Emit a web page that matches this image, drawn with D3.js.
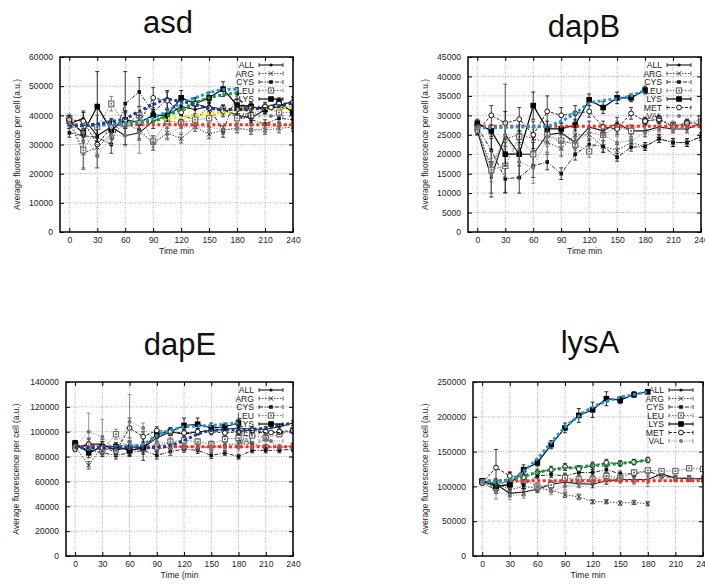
<!DOCTYPE html>
<html><head><meta charset="utf-8">
<script src="https://cdn.jsdelivr.net/npm/d3@7/dist/d3.min.js"></script>
<style>body{margin:0;background:#fff} text{font-family:"Liberation Sans",Arial,Helvetica,sans-serif}</style>
</head><body><svg id="c" width="705" height="584"></svg>
<script>
// ---------------- DATA ----------------
const times = [0,15,30,45,60,75,90,105,120,135,150,165,180,195,210,225,240];
const seriesNames = ["ALL","ARG","CYS","LEU","LYS","MET","VAL"];
const panelTitles = ["asd","dapB","dapE","lysA"];
const xTicks = [0,30,60,90,120,150,180,210,240];
const xLabels = ["Time  min","Time  min","Time (min","Time  min"];
const yLabel = "Average fluorescence per cell (a.u.)";
const yTicksAsd = [0,10000,20000,30000,40000,50000,60000];
const yTicksDapB = [0,5000,10000,15000,20000,25000,30000,35000,40000,45000];
const yTicksDapE = [0,20000,40000,60000,80000,100000,120000,140000];
const yTicksLysA = [0,50000,100000,150000,200000,250000];

// values per series, order: ALL, ARG, CYS, LEU, LYS, MET, VAL
const asdValues = [
 [37000,39000,33000,36000,33000,34000,38000,40000,43000,42000,43000,42000,40000,39000,42000,43000,45000],
 [38000,27000,29000,33500,37000,35000,30500,34000,32000,36000,33500,35000,35500,35000,35000,35500,36000],
 [34000,33000,32500,30000,44000,48000,41000,45500,40000,38500,43000,34500,47500,38500,37000,39000,38500],
 [39000,28000,36000,44000,37000,40000,31000,38000,37500,38500,39000,42000,39000,40000,42500,41000,41000],
 [38000,34000,43000,35000,38500,37500,40000,40000,46000,44000,46000,49000,43500,43000,42000,44500,41000],
 [38500,38000,30000,36000,38500,37500,46000,45000,41000,44000,42500,41500,42000,42500,43000,44000,44500],
 [37500,34000,26000,33000,33000,34000,30500,33500,36000,36000,36000,35000,35500,35000,35500,36500,36500]
];
const asdErrors = [
 [1500,2500,3000,2500,3000,2500,2500,2000,2000,2000,1500,1500,1500,1500,1500,1500,1500],
 [1500,5500,7000,3000,4000,3000,2500,2000,1500,1500,1500,1500,1500,1500,1500,1500,1500],
 [1500,2500,3000,3000,11000,5000,3000,3000,2500,2000,2000,2000,2000,1500,1500,1500,1500],
 [1500,6000,4000,2500,3500,2500,2000,2500,2000,1500,1500,1500,1500,1500,1500,1500,1500],
 [1500,2500,12000,3000,3000,2500,2000,2000,2500,2000,2000,2500,2000,1500,1500,1500,1500],
 [1500,3000,3500,3000,3000,2500,3500,3000,2500,2000,2000,2000,1500,1500,1500,1500,1500],
 [1500,3000,4000,3000,3500,7000,2500,2000,2000,1500,1500,1500,1500,1500,1500,1500,1500]
];
const dapBValues = [
 [26000,14000,25000,20000,20000,25000,25500,23000,27000,26000,28000,26000,26000,27000,26500,26500,28000],
 [26000,17000,24000,25000,24000,23000,21500,25000,25000,22000,21000,23000,22000,24000,23000,23000,24500],
 [27000,21000,13700,14000,17000,18000,15000,20000,22500,22000,19200,21800,22000,24000,23000,23000,24500],
 [27000,16000,17000,24500,20000,25000,23500,22500,20700,25000,27000,26000,28500,29000,27500,28000,29000],
 [28000,26000,20000,20000,32500,26500,26500,27500,34000,32000,34500,34500,36500,null,null,null,null],
 [26000,30000,28000,29000,25000,31000,30000,30500,31000,27000,26500,30500,28500,29000,27000,28000,28000],
 [26500,15000,25000,18000,16500,24500,23000,23000,25500,25000,23000,23500,25500,26500,26500,27000,27500]
];
const dapBErrors = [
 [1000,4000,3000,3000,3000,2000,1500,1500,1500,1500,1500,1500,1500,1000,1000,1000,1000],
 [1000,8000,14000,4000,3000,2500,2000,1500,1500,1500,1500,1000,1000,1000,1000,1000,1000],
 [1000,3000,3500,4000,3000,2000,1500,1500,1500,1500,1000,1000,1000,1000,1000,1000,1000],
 [1000,3000,3000,3000,3000,2000,2000,1500,1500,1500,1500,1000,1000,1000,1000,1000,1000],
 [1000,1500,3000,6000,3500,2000,1500,1500,1500,1500,1500,1000,1000,1000,1000,1000,1000],
 [1000,2500,3000,3000,3500,4000,2000,2000,1500,1500,1500,1500,1000,1000,1000,1000,1000],
 [1000,6000,3500,4500,4000,2500,2000,1500,1500,1500,1500,1000,1000,1000,1000,1000,1000]
];
const dapEValues = [
 [87000,90000,90000,85000,88000,87000,95000,100000,98000,100000,101000,102000,103000,102000,102000,104000,107000],
 [88000,73000,88000,88000,90000,88000,86000,88000,88000,88000,87000,90000,90000,90000,88000,87000,89000],
 [90000,85000,83000,81000,83000,85000,81000,84000,86000,85000,81000,83000,80000,85000,85000,85000,86000],
 [89000,88000,85000,98000,85000,86000,88000,92000,93000,92000,90000,94000,95000,97000,95000,98000,101000],
 [91000,83000,88000,88000,85000,87000,98000,100000,105000,106000,103000,104000,107000,null,null,null,null],
 [86000,90000,87000,84000,103000,96000,101000,100000,99000,100000,100000,99000,100000,101000,100000,100000,101000],
 [88000,100000,96000,85000,108000,103000,92000,90000,87000,88000,88000,87000,87000,88000,94000,88000,88000]
];
const dapEErrors = [
 [2000,4000,4000,3000,4000,3000,3000,3000,3000,2500,2500,2500,2500,2000,2000,2000,2000],
 [2000,3000,4000,3000,3000,3000,3000,2500,2500,2500,2500,2000,2000,2000,2000,2000,2000],
 [2000,3000,3000,3000,3000,3000,3000,3000,2500,2500,2500,2000,2000,2000,2000,2000,2000],
 [2000,4000,4000,4000,4000,4000,3000,3000,2500,2500,2500,2000,2000,2000,2000,2000,2000],
 [2000,4000,4000,3000,4000,10000,3000,3000,6000,5000,4000,3000,3000,2000,2000,2000,2000],
 [2000,5000,5000,4000,8000,4000,3000,3000,3000,2500,2500,2500,2000,2000,2000,2000,2000],
 [2000,15000,14000,4000,22000,4000,4000,9000,3000,3000,3000,3000,2500,2000,2000,2000,2000]
];
const lysAValues = [
 [108000,103000,90000,92000,96000,103000,106000,104000,103000,108000,110000,110000,110000,118000,112000,111000,111000],
 [107000,105000,95000,100000,97000,95000,88000,85000,78000,78000,76000,77000,75000,null,null,null,null],
 [106000,95000,115000,102000,115000,117000,115000,120000,120000,124000,118000,118000,122000,115000,112000,112000,111000],
 [107000,98000,103000,110000,100000,102000,112000,110000,110000,115000,112000,120000,123000,122000,122000,126000,125000],
 [108000,100000,103000,124000,134000,160000,184000,202000,210000,226000,224000,232000,236000,null,null,null,null],
 [105000,127000,115000,113000,120000,124000,128000,125000,130000,134000,133000,135000,138000,null,null,null,null],
 [107000,92000,87000,88000,100000,93000,100000,103000,108000,110000,112000,108000,110000,113000,111000,112000,110000]
];
const lysAErrors = [
 [3000,6000,5000,5000,5000,5000,5000,5000,5000,5000,5000,5000,5000,4000,4000,4000,4000],
 [3000,6000,5000,4000,4000,4000,4000,4000,3000,3000,3000,3000,3000,3000,3000,3000,3000],
 [3000,5000,5000,5000,4000,4000,4000,4000,4000,4000,4000,4000,4000,3000,3000,3000,3000],
 [3000,5000,5000,5000,5000,5000,5000,5000,5000,5000,4000,4000,4000,3000,3000,3000,3000],
 [3000,6000,5000,7000,5000,6000,7000,10000,11000,10000,5000,4000,3000,3000,3000,3000,3000],
 [3000,26000,6000,5000,5000,5000,5000,5000,5000,5000,4000,4000,4000,3000,3000,3000,3000],
 [3000,10000,6000,5000,5000,5000,5000,5000,5000,5000,5000,5000,10000,4000,4000,4000,4000]
];

// model fit curves (dotted, coloured)
const asdFitRed    = [36800,36800,36800,36800,36800,36800,36800,36800,36800,36800,36800,36800,36800,36800,36800,36800,36800];
const asdFitYellow = [36000,36300,36600,37000,37400,38000,38500,38900,39300,40000,40600,41100,41600,42000,42300,42500,42700];
const asdFitNavy   = [36200,36500,37000,37900,38900,41400,43700,45400,44800,43700,42500,42000,42000,42200,42500,43300,44200];
const asdFitBlue   = [36500,36500,36600,36800,37000,37800,39100,41400,44200,46000,47700,48800,49000,null,null,null,null];
const asdFitGreen  = [36500,36700,37000,37200,37500,37800,38000,39900,42000,44300,46000,47000,47700,null,null,null,null];
const dapBFitRed   = [27200,27200,27200,27200,27200,27200,27200,27200,27200,27200,27200,27200,27200,27200,27200,27200,27200];
const dapBFitBlue  = [26800,26800,26900,27000,27000,27300,28500,30500,33000,33800,34300,35000,36500,null,null,null,null];
const dapEFitRed   = [88000,88000,88000,88000,88000,88000,88000,88000,88000,88000,88000,88000,88000,88000,88000,88000,88000];
const dapEFitBlue  = [87000,87000,87500,88000,88500,90000,97000,101000,104000,104500,105000,106000,107000,null,null,null,null];
const dapEFitNavy  = [87000,87000,87000,87000,87000,87000,87500,89000,93000,98000,101000,101500,101500,102000,103000,105000,107000];
const lysAFitRed   = [108000,108000,108000,108000,108000,108000,108000,108000,108000,108000,108000,108000,108000,108000,108000,108000,108000];
const lysAFitBlue  = [108000,106000,109000,122000,140000,163000,185000,201000,214000,222000,228000,232000,236000,null,null,null,null];
const lysAFitGreen = [107000,107500,110000,115000,120000,124000,126000,128000,130000,131000,133000,135000,138000,null,null,null,null];

// ---------------- LAYOUT / STYLE ----------------
const fitColors = {red:"#ff2a1a", yellow:"#f5ea00", navy:"#1f3a9e", blue:"#1e96d8", green:"#129a3c"};
const panels = [
 {title:panelTitles[0], left:60, right:293, top:57, bottom:232, tx:168, ty:33, ylx:17, yTicks:yTicksAsd, yMax:60000,
  values:asdValues, errors:asdErrors, xlab:xLabels[0],
  fits:[[asdFitRed,"red"],[asdFitYellow,"yellow"],[asdFitGreen,"green"],[asdFitBlue,"blue"],[asdFitNavy,"navy"]]},
 {title:panelTitles[1], left:468, right:701, top:57, bottom:232, tx:584, ty:37, ylx:425, yTicks:yTicksDapB, yMax:45000,
  values:dapBValues, errors:dapBErrors, xlab:xLabels[1],
  fits:[[dapBFitRed,"red"],[dapBFitBlue,"blue"]]},
 {title:panelTitles[2], left:66, right:293, top:382, bottom:556, tx:180, ty:355, ylx:16, yTicks:yTicksDapE, yMax:140000,
  values:dapEValues, errors:dapEErrors, xlab:xLabels[2],
  fits:[[dapEFitRed,"red"],[dapEFitBlue,"blue"],[dapEFitNavy,"navy"]]},
 {title:panelTitles[3], left:473, right:703, top:382, bottom:556, tx:590, ty:353, ylx:425, yTicks:yTicksLysA, yMax:250000,
  values:lysAValues, errors:lysAErrors, xlab:xLabels[3],
  fits:[[lysAFitRed,"red"],[lysAFitGreen,"green"],[lysAFitBlue,"blue"]]}
];
const styles = {
 ALL:{stroke:"#111", dash:null, w:1.1, mk:"dot"},
 ARG:{stroke:"#333", dash:"1.5,1.5", w:0.9, mk:"x"},
 CYS:{stroke:"#111", dash:"4,1.5,1,1.5", w:0.9, mk:"sq"},
 LEU:{stroke:"#666", dash:"1.5,1.5", w:0.9, mk:"osq"},
 LYS:{stroke:"#000", dash:null, w:1.2, mk:"bigsq"},
 MET:{stroke:"#111", dash:"3,1.5", w:0.9, mk:"ocirc"},
 VAL:{stroke:"#777", dash:"1,1.5", w:0.9, mk:"circ"}
};

const svg = d3.select("#c");
const fmt = d3.format("d");

function marker(g, type, x, y, col){
  if(type==="dot") g.append("circle").attr("cx",x).attr("cy",y).attr("r",1.6).attr("fill",col);
  else if(type==="x"){ const s=2.2;
    g.append("path").attr("d",`M${x-s},${y-s}L${x+s},${y+s}M${x-s},${y+s}L${x+s},${y-s}`).attr("stroke",col).attr("stroke-width",1);}
  else if(type==="sq") g.append("rect").attr("x",x-1.8).attr("y",y-1.8).attr("width",3.6).attr("height",3.6).attr("fill",col);
  else if(type==="osq"){ g.append("rect").attr("x",x-2.6).attr("y",y-2.6).attr("width",5.2).attr("height",5.2).attr("fill","#fff").attr("stroke",col).attr("stroke-width",1.1);
    g.append("rect").attr("x",x-0.9).attr("y",y-0.9).attr("width",1.8).attr("height",1.8).attr("fill",col);}
  else if(type==="bigsq") g.append("rect").attr("x",x-2.8).attr("y",y-2.8).attr("width",5.6).attr("height",5.6).attr("fill",col);
  else if(type==="ocirc") g.append("circle").attr("cx",x).attr("cy",y).attr("r",2.4).attr("fill","#fff").attr("stroke",col).attr("stroke-width",1);
  else if(type==="circ") g.append("circle").attr("cx",x).attr("cy",y).attr("r",2).attr("fill",col);
}

panels.forEach(p=>{
  const x = d3.scaleLinear().domain([-10,240]).range([p.left,p.right]);
  const y = d3.scaleLinear().domain([0,p.yMax]).range([p.bottom,p.top]);
  const g = svg.append("g");

  // title
  g.append("text").attr("x",p.tx).attr("y",p.ty).attr("text-anchor","middle").attr("font-size",31).attr("fill","#111").text(p.title);

  // grid
  const grid = g.append("g").attr("stroke","#9a9a9a").attr("stroke-width",0.8).attr("stroke-dasharray","1,1.5");
  xTicks.forEach(t=>grid.append("line").attr("x1",x(t)).attr("x2",x(t)).attr("y1",p.top).attr("y2",p.bottom));
  p.yTicks.forEach(t=>{ if(t>0 && t<p.yMax) grid.append("line").attr("x1",p.left).attr("x2",p.right).attr("y1",y(t)).attr("y2",y(t)); });

  // axes
  const ax = g.append("g").attr("transform",`translate(0,${p.bottom})`)
    .call(d3.axisBottom(x).tickValues(xTicks).tickFormat(fmt).tickSizeInner(-4).tickSizeOuter(0).tickPadding(5));
  const ay = g.append("g").attr("transform",`translate(${p.left},0)`)
    .call(d3.axisLeft(y).tickValues(p.yTicks).tickFormat(fmt).tickSizeInner(-4).tickSizeOuter(0).tickPadding(7));
  const axT = g.append("g").attr("transform",`translate(0,${p.top})`)
    .call(d3.axisTop(x).tickValues(xTicks).tickFormat("").tickSizeInner(-4).tickSizeOuter(0));
  const ayR = g.append("g").attr("transform",`translate(${p.right},0)`)
    .call(d3.axisRight(y).tickValues(p.yTicks).tickFormat("").tickSizeInner(-4).tickSizeOuter(0));
  [ax,ay,axT,ayR].forEach(a=>{ a.select(".domain").remove(); a.selectAll("text").attr("font-size",8.6).attr("fill","#222").attr("font-family",'"Liberation Sans",Arial,sans-serif'); a.selectAll("line").attr("stroke","#000"); });

  // axis labels
  g.append("text").attr("x",(p.left+p.right)/2).attr("y",p.bottom+22).attr("text-anchor","middle").attr("font-size",8.6).attr("fill","#222").text(p.xlab);
  g.append("text").attr("transform",`translate(${p.ylx+3},${(p.top+p.bottom)/2}) rotate(-90)`).attr("text-anchor","middle").attr("font-size",8.3).attr("fill","#222").text(yLabel);

  // data series
  const clip = "clip"+p.title;
  g.append("clipPath").attr("id",clip).append("rect").attr("x",p.left).attr("y",p.top).attr("width",p.right-p.left).attr("height",p.bottom-p.top);
  const dg = g.append("g").attr("clip-path",`url(#${clip})`);
  seriesNames.forEach((name,si)=>{
    const st = styles[name];
    const pts = times.map((t,i)=>({t, v:p.values[si][i], e:p.errors[si][i]})).filter(d=>d.v!=null);
    const line = d3.line().x(d=>x(d.t)).y(d=>y(d.v));
    dg.append("path").datum(pts).attr("d",line).attr("fill","none").attr("stroke",st.stroke).attr("stroke-width",st.w).attr("stroke-dasharray",st.dash);
    const eg = dg.append("g").attr("stroke",st.stroke).attr("stroke-width",0.8);
    pts.forEach(d=>{
      const cx=x(d.t), y1=y(d.v-d.e), y2=y(d.v+d.e);
      eg.append("line").attr("x1",cx).attr("x2",cx).attr("y1",y1).attr("y2",y2);
      eg.append("line").attr("x1",cx-2).attr("x2",cx+2).attr("y1",y1).attr("y2",y1);
      eg.append("line").attr("x1",cx-2).attr("x2",cx+2).attr("y1",y2).attr("y2",y2);
    });
    const mg = dg.append("g");
    pts.forEach(d=>marker(mg, st.mk, x(d.t), y(d.v), st.stroke));
  });

  // fits
  p.fits.forEach(([vals,col])=>{
    const pts = times.map((t,i)=>({t,v:vals[i]})).filter(d=>d.v!=null);
    dg.append("path").datum(pts).attr("d",d3.line().curve(d3.curveMonotoneX).x(d=>x(d.t)).y(d=>y(d.v)))
      .attr("fill","none").attr("stroke",fitColors[col]).attr("stroke-width",3).attr("stroke-dasharray","3,2.5");
  });

  // legend
  const lg = g.append("g");
  seriesNames.forEach((name,i)=>{
    const st = styles[name];
    const ly = p.top+8+i*8.5;
    lg.append("text").attr("x",p.right-39).attr("y",ly).attr("dy","0.35em").attr("text-anchor","end").attr("font-size",8.6).attr("fill","#222").text(name);
    const x1=p.right-34, x2=p.right-10;
    lg.append("line").attr("x1",x1).attr("x2",x2).attr("y1",ly).attr("y2",ly).attr("stroke",st.stroke).attr("stroke-width",st.w).attr("stroke-dasharray",st.dash);
    [x1,x2].forEach(xx=>lg.append("line").attr("x1",xx).attr("x2",xx).attr("y1",ly-2).attr("y2",ly+2).attr("stroke",st.stroke).attr("stroke-width",0.8));
    marker(lg, st.mk, (x1+x2)/2, ly, st.stroke);
  });

  // frame
  g.append("rect").attr("x",p.left).attr("y",p.top).attr("width",p.right-p.left).attr("height",p.bottom-p.top)
    .attr("fill","none").attr("stroke","#000").attr("stroke-width",1.5);
});
</script></body></html>
